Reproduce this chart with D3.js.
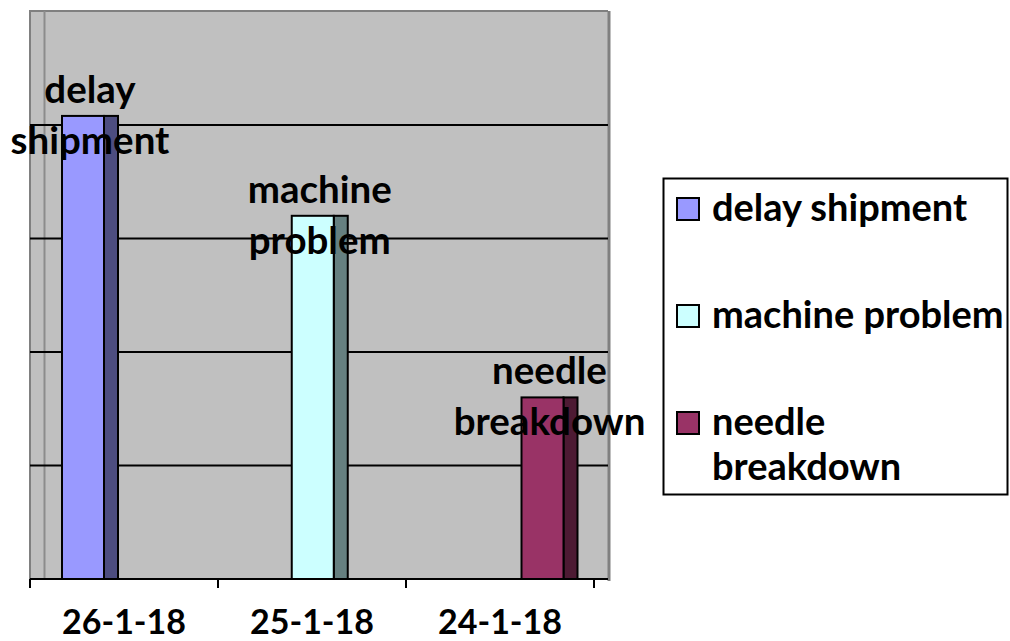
<!DOCTYPE html>
<html>
<head>
<meta charset="utf-8">
<script src="https://cdn.jsdelivr.net/npm/d3@7"></script>
<style>
  html, body { margin: 0; padding: 0; background: #ffffff; }
  svg { display: block; }
  text { font-family: Lato, "Open Sans", sans-serif; font-weight: 700; fill: #000; }
</style>
</head>
<body>
<svg id="chart" width="1010" height="641"></svg>
<script>
// ---- data ----
const categories = ["26-1-18", "25-1-18", "24-1-18"];
const seriesNames = ["delay shipment", "machine problem", "needle breakdown"];
const values = [4.08, 3.2, 1.6];
const labelLines = [["delay", "shipment"], ["machine", "problem"], ["needle", "breakdown"]];
const legendLines = [["delay shipment"], ["machine problem"], ["needle", "breakdown"]];
const frontColors = ["#9999ff", "#ccffff", "#993366"];
const sideColors = ["#4d4d80", "#668080", "#4d1a33"];
const gridValues = [1, 2, 3, 4];

// ---- layout ----
const svg = d3.select("#chart");
const plot = { left: 30, right: 608, top: 11, bottom: 579 };
// axis categories (front edge of the 3D floor)
const x = d3.scaleBand().domain(categories).range([30, 594]).padding(0);
const bw = x.bandwidth();
// bar positions (each series sits at its own depth slot)
const xBar = d3.scalePoint().domain(categories).range([90, 549.5]);
const y = d3.scaleLinear().domain([0, 5]).range([plot.bottom, plot.top + 0.5]);
const frontW = 42, sideW = 14;

// plot background
svg.append("rect")
  .attr("x", plot.left).attr("y", plot.top)
  .attr("width", plot.right - plot.left).attr("height", plot.bottom - plot.top)
  .attr("fill", "#c0c0c0");
svg.append("path")
  .attr("d", `M${plot.left},${plot.bottom} V${plot.top} H${plot.right}`)
  .attr("fill", "none").attr("stroke", "#808080").attr("stroke-width", 2);
svg.append("line")
  .attr("x1", plot.right + 1).attr("x2", plot.right + 1)
  .attr("y1", plot.top).attr("y2", plot.bottom + 2)
  .attr("stroke", "#808080").attr("stroke-width", 3);
svg.append("line")
  .attr("x1", 44.5).attr("x2", 44.5).attr("y1", plot.top).attr("y2", plot.bottom)
  .attr("stroke", "#8c8c8c").attr("stroke-width", 2);

// gridlines
svg.append("g").selectAll("line").data(gridValues).join("line")
  .attr("x1", plot.left).attr("x2", plot.right)
  .attr("y1", d => y(d)).attr("y2", d => y(d))
  .attr("stroke", "#000").attr("stroke-width", 2);

// bars
const bars = svg.append("g");
categories.forEach((c, i) => {
  const x0 = xBar(c) - (frontW + sideW) / 2;
  const yt = y(values[i]);
  bars.append("rect")
    .attr("x", x0 + frontW).attr("y", yt)
    .attr("width", sideW).attr("height", y(0) - yt)
    .attr("fill", sideColors[i]).attr("stroke", "#000").attr("stroke-width", 2);
  bars.append("rect")
    .attr("x", x0).attr("y", yt)
    .attr("width", frontW).attr("height", y(0) - yt)
    .attr("fill", frontColors[i]).attr("stroke", "#000").attr("stroke-width", 2);
});

// x axis
const axis = svg.append("g");
axis.append("line")
  .attr("x1", plot.left).attr("x2", plot.right)
  .attr("y1", plot.bottom).attr("y2", plot.bottom)
  .attr("stroke", "#000").attr("stroke-width", 2);
const edges = categories.map(c => x(c)).concat([x(categories[categories.length - 1]) + bw]);
axis.selectAll("line.tick").data(edges).join("line").attr("class", "tick")
  .attr("x1", d => d).attr("x2", d => d)
  .attr("y1", plot.bottom).attr("y2", plot.bottom + 9)
  .attr("stroke", "#000").attr("stroke-width", 2);
axis.selectAll("text").data(categories).join("text")
  .attr("x", d => x(d) + bw / 2).attr("y", 634)
  .attr("text-anchor", "middle").attr("font-size", 34)
  .text(d => d);

// data labels
const lbl = svg.append("g");
categories.forEach((c, i) => {
  const cx = xBar(c);
  const yt = y(values[i]);
  labelLines[i].forEach((t, j) => {
    lbl.append("text")
      .attr("x", cx).attr("y", yt - 13 + j * 51)
      .attr("text-anchor", "middle").attr("font-size", 38.5)
      .text(t);
  });
});

// legend
const lg = svg.append("g");
lg.append("rect")
  .attr("x", 663.5).attr("y", 178.5).attr("width", 344).attr("height", 316)
  .attr("fill", "#fff").attr("stroke", "#000").attr("stroke-width", 2);
const legendY = [198, 305, 412];
seriesNames.forEach((s, i) => {
  lg.append("rect")
    .attr("x", 677).attr("y", legendY[i]).attr("width", 22).attr("height", 22)
    .attr("fill", frontColors[i]).attr("stroke", "#000").attr("stroke-width", 2);
  legendLines[i].forEach((t, j) => {
    lg.append("text")
      .attr("x", 712).attr("y", legendY[i] + 23 + j * 45)
      .attr("font-size", 38)
      .text(t);
  });
});
</script>
</body>
</html>
